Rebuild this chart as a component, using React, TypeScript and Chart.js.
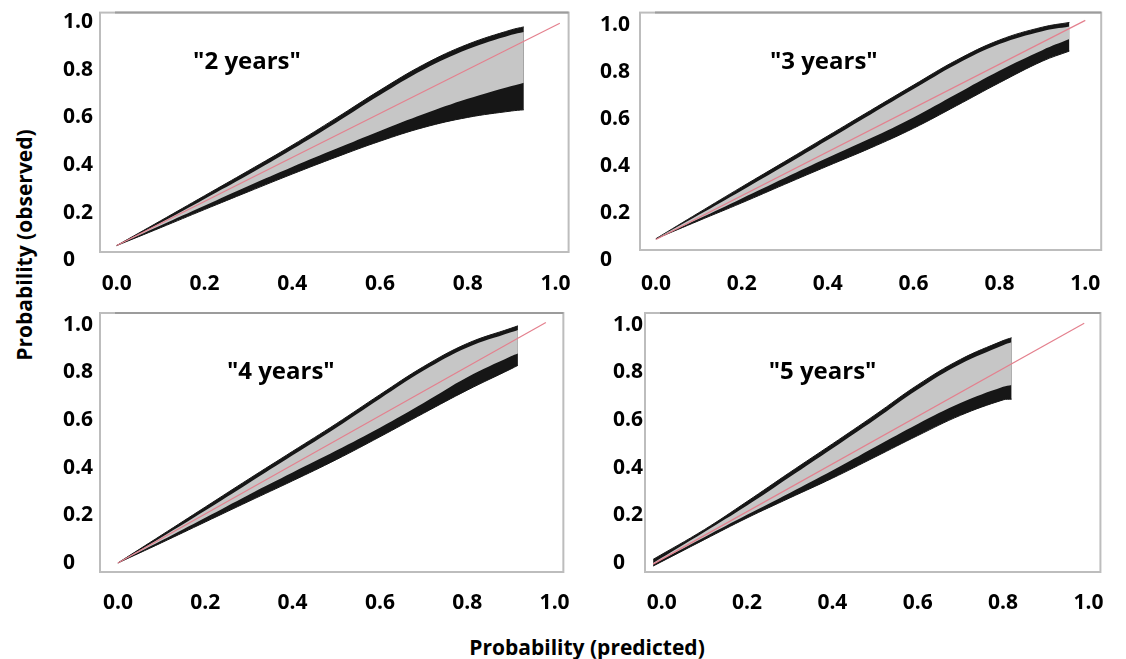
import React, { useEffect, useRef } from "react";
import { Chart, registerables } from "chart.js";

Chart.register(...registerables);

const FONT = "'Open Sans', 'DejaVu Sans', sans-serif";

// tick values shared by all panels
const tickValues = [0, 0.2, 0.4, 0.6, 0.8, 1.0];
const xTickLabels = ["0.0", "0.2", "0.4", "0.6", "0.8", "1.0"];
const yTickLabels = ["0", "0.2", "0.4", "0.6", "0.8", "1.0"];

// ---- "2 years" ----
const x2 = [0, 0.1, 0.2, 0.3, 0.4, 0.5, 0.6, 0.7, 0.8, 0.9, 0.928];
const upperOuter2 = [0.062, 0.166, 0.271, 0.376, 0.483, 0.597, 0.714, 0.822, 0.907, 0.968, 0.98];
const upperInner2 = [0.062, 0.158, 0.258, 0.359, 0.466, 0.578, 0.694, 0.801, 0.886, 0.947, 0.959];
const lowerInner2 = [0.062, 0.146, 0.229, 0.312, 0.392, 0.468, 0.543, 0.614, 0.678, 0.732, 0.746];
const lowerOuter2 = [0.062, 0.137, 0.213, 0.288, 0.362, 0.433, 0.5, 0.558, 0.6, 0.627, 0.632];
const refX2 = [0, 1.01];
const refY2 = [0.062, 0.995];

// ---- "3 years" ----
const x3 = [0, 0.1, 0.2, 0.3, 0.4, 0.5, 0.6, 0.7, 0.8, 0.9, 0.963];
const upperOuter3 = [0.091, 0.202, 0.312, 0.42, 0.529, 0.638, 0.746, 0.852, 0.938, 0.993, 1.013];
const upperInner3 = [0.091, 0.193, 0.297, 0.403, 0.512, 0.621, 0.729, 0.835, 0.921, 0.976, 0.996];
const lowerInner3 = [0.091, 0.176, 0.263, 0.35, 0.436, 0.519, 0.608, 0.708, 0.807, 0.895, 0.942];
const lowerOuter3 = [0.091, 0.168, 0.244, 0.323, 0.401, 0.478, 0.562, 0.658, 0.756, 0.848, 0.891];
const refX3 = [0, 1.0];
const refY3 = [0.088, 1.022];

// ---- "4 years" ----
const x4 = [0, 0.1, 0.2, 0.3, 0.4, 0.5, 0.6, 0.7, 0.8, 0.9, 0.916];
const upperOuter4 = [0.0, 0.117, 0.235, 0.353, 0.469, 0.585, 0.707, 0.825, 0.922, 0.986, 0.996];
const upperInner4 = [0.0, 0.108, 0.22, 0.336, 0.452, 0.568, 0.69, 0.808, 0.905, 0.969, 0.979];
const lowerInner4 = [0.0, 0.094, 0.19, 0.287, 0.38, 0.472, 0.568, 0.672, 0.78, 0.868, 0.88];
const lowerOuter4 = [0.0, 0.085, 0.172, 0.259, 0.345, 0.434, 0.53, 0.629, 0.726, 0.815, 0.83];
const refX4 = [0, 0.98];
const refY4 = [0, 1.01];

// ---- "5 years" ----
const x5 = [-0.02, 0.1, 0.2, 0.3, 0.4, 0.5, 0.6, 0.7, 0.8, 0.82];
const upperOuter5 = [0.015, 0.14, 0.258, 0.38, 0.5, 0.622, 0.748, 0.855, 0.934, 0.946];
const upperInner5 = [0.0, 0.13, 0.241, 0.361, 0.481, 0.603, 0.729, 0.836, 0.915, 0.927];
const lowerInner5 = [-0.005, 0.108, 0.202, 0.294, 0.388, 0.487, 0.584, 0.672, 0.74, 0.748];
const lowerOuter5 = [-0.013, 0.098, 0.189, 0.273, 0.356, 0.445, 0.535, 0.62, 0.685, 0.688];
const refX5 = [-0.02, 0.99];
const refY5 = [-0.005, 1.007];

const BLACK = "#161616";
const GREY = "#c6c6c6";
const PINK = "rgb(228,128,142)";

type PanelCfg = {
  title: string;
  titleX: number;
  titleY: number;
  xs: number[];
  uo: number[];
  ui: number[];
  li: number[];
  lo: number[];
  rx: number[];
  ry: number[];
  xMin: number;
  xMax: number;
  yMin: number;
  yMax: number;
  left: number;
  top: number;
  width: number;
  height: number;
  padTop: number;
  yAxisWidth: number;
  xLabelPad: number;
};

const panels: PanelCfg[] = [
  {
    title: '"2 years"', titleX: 0.297, titleY: 0.83,
    xs: x2, uo: upperOuter2, ui: upperInner2, li: lowerInner2, lo: lowerOuter2, rx: refX2, ry: refY2,
    xMin: -0.038, xMax: 1.03, yMin: 0.035, yMax: 1.04,
    left: 63, top: 0, width: 527, height: 297, padTop: 12, yAxisWidth: 37, xLabelPad: 19,
  },
  {
    title: '"3 years"', titleX: 0.391, titleY: 0.843,
    xs: x3, uo: upperOuter3, ui: upperInner3, li: lowerInner3, lo: lowerOuter3, rx: refX3, ry: refY3,
    xMin: -0.037, xMax: 1.037, yMin: 0.043, yMax: 1.055,
    left: 600, top: 0, width: 522, height: 295, padTop: 12, yAxisWidth: 40, xLabelPad: 21,
  },
  {
    title: '"4 years"', titleX: 0.373, titleY: 0.8,
    xs: x4, uo: upperOuter4, ui: upperInner4, li: lowerInner4, lo: lowerOuter4, rx: refX4, ry: refY4,
    xMin: -0.041, xMax: 1.02, yMin: -0.038, yMax: 1.05,
    left: 63, top: 300, width: 525, height: 317, padTop: 13, yAxisWidth: 37, xLabelPad: 18,
  },
  {
    title: '"5 years"', titleX: 0.377, titleY: 0.8,
    xs: x5, uo: upperOuter5, ui: upperInner5, li: lowerInner5, lo: lowerOuter5, rx: refX5, ry: refY5,
    xMin: -0.039, xMax: 1.028, yMin: -0.038, yMax: 1.05,
    left: 613, top: 300, width: 509, height: 317, padTop: 13, yAxisWidth: 32, xLabelPad: 18,
  },
];

const pts = (xs: number[], ys: number[]) => xs.map((x, i) => ({ x, y: ys[i] }));

const panelPlugin = {
  id: "panelDecor",
  beforeDatasetsDraw(chart: any) {
    const { ctx, chartArea: a } = chart;
    ctx.save();
    ctx.strokeStyle = "#bdbdbd";
    ctx.lineWidth = 2;
    ctx.strokeRect(a.left, a.top, a.right - a.left, a.bottom - a.top);
    ctx.strokeStyle = "#9c9c9c";
    ctx.beginPath();
    ctx.moveTo(a.left + 15, a.top);
    ctx.lineTo(a.right, a.top);
    ctx.stroke();
    ctx.restore();
  },
  afterDraw(chart: any, _args: any, opts: any) {
    const { ctx, scales } = chart;
    ctx.save();
    ctx.fillStyle = "#000";
    ctx.font = `bold 24px ${FONT}`;
    ctx.textAlign = "center";
    ctx.textBaseline = "middle";
    ctx.fillText(opts.text, scales.x.getPixelForValue(opts.x), scales.y.getPixelForValue(opts.y));
    ctx.restore();
  },
};

function Panel({ cfg }: { cfg: PanelCfg }) {
  const ref = useRef<HTMLCanvasElement | null>(null);
  useEffect(() => {
    if (!ref.current) return;
    const band = { pointRadius: 0, tension: 0.4 };
    const chart = new Chart(ref.current, {
      type: "line",
      data: {
        datasets: [
          { data: pts(cfg.rx, cfg.ry), borderColor: PINK, borderWidth: 1.2, pointRadius: 0, fill: false },
          { ...band, data: pts(cfg.xs, cfg.ui), borderColor: GREY, borderWidth: 0, backgroundColor: GREY, fill: "+1" },
          { ...band, data: pts(cfg.xs, cfg.li), borderColor: GREY, borderWidth: 0, fill: false },
          { ...band, data: pts(cfg.xs, cfg.uo), borderColor: BLACK, borderWidth: 1, backgroundColor: BLACK, fill: "+1" },
          { ...band, data: pts(cfg.xs, cfg.lo), borderColor: BLACK, borderWidth: 1, fill: false },
        ],
      } as any,
      options: {
        responsive: false,
        animation: false,
        events: [],
        layout: { padding: { top: cfg.padTop, right: 20, left: 0, bottom: 0 } },
        plugins: {
          legend: { display: false },
          tooltip: { enabled: false },
          title: { display: false },
          panelDecor: { text: cfg.title, x: cfg.titleX, y: cfg.titleY },
        } as any,
        scales: {
          x: {
            type: "linear",
            min: cfg.xMin,
            max: cfg.xMax,
            grid: { display: false, drawTicks: false },
            border: { display: false },
            afterBuildTicks: (s: any) => {
              s.ticks = tickValues.map((v) => ({ value: v }));
            },
            afterFit: (s: any) => {
              s.height = 45;
            },
            ticks: {
              autoSkip: false,
              maxRotation: 0,
              padding: cfg.xLabelPad,
              color: "#000",
              font: { family: FONT, size: 21, weight: "bold" },
              callback: (_v: any, i: number) => xTickLabels[i],
            },
          },
          y: {
            type: "linear",
            min: cfg.yMin,
            max: cfg.yMax,
            grid: { display: false, drawTicks: false },
            border: { display: false },
            afterBuildTicks: (s: any) => {
              s.ticks = tickValues.map((v) => ({ value: v }));
            },
            afterFit: (s: any) => {
              s.width = cfg.yAxisWidth;
            },
            ticks: {
              autoSkip: false,
              crossAlign: "far",
              padding: 0,
              color: "#000",
              font: { family: FONT, size: 21, weight: "bold" },
              callback: (_v: any, i: number) => yTickLabels[i],
            },
          },
        },
      } as any,
      plugins: [panelPlugin],
    });
    return () => chart.destroy();
  }, [cfg]);
  return (
    <canvas
      ref={ref}
      width={cfg.width}
      height={cfg.height}
      style={{ position: "absolute", left: cfg.left, top: cfg.top, width: cfg.width, height: cfg.height }}
    />
  );
}

export default function App() {
  return (
    <div
      style={{
        position: "absolute",
        left: 0,
        top: 0,
        width: 1126,
        height: 659,
        background: "#fff",
        overflow: "hidden",
        fontFamily: FONT,
      }}
    >
      {panels.map((p, i) => (
        <Panel key={i} cfg={p} />
      ))}
      <div
        style={{
          position: "absolute",
          left: 24,
          top: 245,
          transform: "translate(-50%, -50%) rotate(-90deg)",
          whiteSpace: "nowrap",
          fontWeight: "bold",
          fontSize: 21,
          color: "#000",
          lineHeight: "26px",
        }}
      >
        Probability (observed)
      </div>
      <div
        style={{
          position: "absolute",
          left: 587,
          top: 647,
          transform: "translate(-50%, -50%)",
          whiteSpace: "nowrap",
          fontWeight: "bold",
          fontSize: 21,
          color: "#000",
          lineHeight: "26px",
        }}
      >
        Probability (predicted)
      </div>
    </div>
  );
}
